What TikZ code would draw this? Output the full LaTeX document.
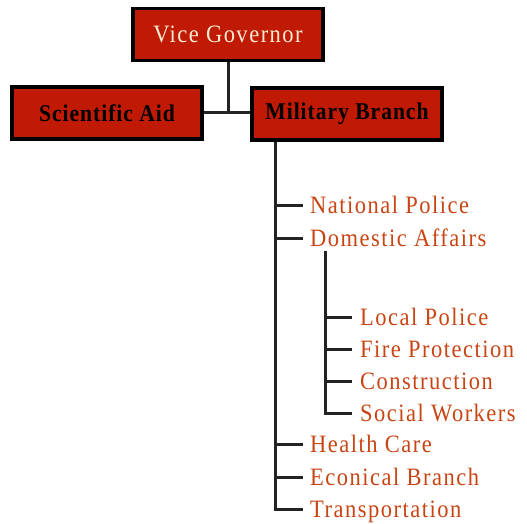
\documentclass[tikz,border=0pt]{standalone}
\usepackage{fontspec}
\setmainfont{Liberation Serif}
\newfontfamily\itemfont{Liberation Serif}[LetterSpace=6, FakeStretch=0.9]
\newfontfamily\boxfont{Liberation Serif}[LetterSpace=4, FakeStretch=0.9]
\usepackage{tikz}
\definecolor{boxred}{RGB}{192,26,4}
\definecolor{itemorange}{RGB}{200,68,18}
\definecolor{cream}{RGB}{250,236,212}
\definecolor{linegray}{RGB}{35,35,35}

\begin{document}
\begin{tikzpicture}[x=1pt, y=-1pt,
    office/.style={draw=black, line width=3.2pt, fill=boxred, minimum width=190pt, minimum height=52pt,
        font=\boxfont\fontsize{24}{26}\selectfont\bfseries, text=black},
    unit/.style={anchor=west, inner sep=0pt, text height=17pt, text depth=0pt,
        font=\itemfont\fontsize{25}{28}\selectfont, text=itemorange},
    tie/.style={draw=linegray, line width=3pt}]

    \useasboundingbox (0,0) rectangle (527,524);

    % top of the chart
    \node[office, font=\itemfont\fontsize{25}{28}\selectfont, text=cream] (vg) at (228,34.5) {Vice Governor};
    \node[office] (sci) at (107,113) {Scientific Aid};
    \node[office] (mil) at (347,114) {Military Branch};
    \draw[tie] (sci.east) -- (sci.east -| mil.west);
    \draw[tie] (vg.south) -- (vg.south |- sci.east);

    % branches under the military
    \node[unit] (np) at (310,205) {National Police};
    \node[unit] (da) at (310,238) {Domestic Affairs};
    \node[unit] (hc) at (310,444) {Health Care};
    \node[unit] (eb) at (310,477) {Econical Branch};
    \node[unit] (tr) at (310,509) {Transportation};
    \coordinate (trunk) at (275,0 |- mil.south);
    \draw[tie] (trunk) |- ([xshift=-7pt]tr.west);
    \foreach \b in {np,da,hc,eb}
        \draw[tie] (trunk |- \b.west) -- ([xshift=-7pt]\b.west);

    % domestic affairs
    \node[unit] (lp) at (360,317) {Local Police};
    \node[unit] (fp) at (360,349) {Fire Protection};
    \node[unit] (co) at (360,381) {Construction};
    \node[unit] (sw) at (360,413) {Social Workers};
    \coordinate (subtrunk) at (325,251);
    \draw[tie] (subtrunk) |- ([xshift=-8pt]sw.west);
    \foreach \b in {lp,fp,co}
        \draw[tie] (subtrunk |- \b.west) -- ([xshift=-8pt]\b.west);
\end{tikzpicture}
\end{document}
